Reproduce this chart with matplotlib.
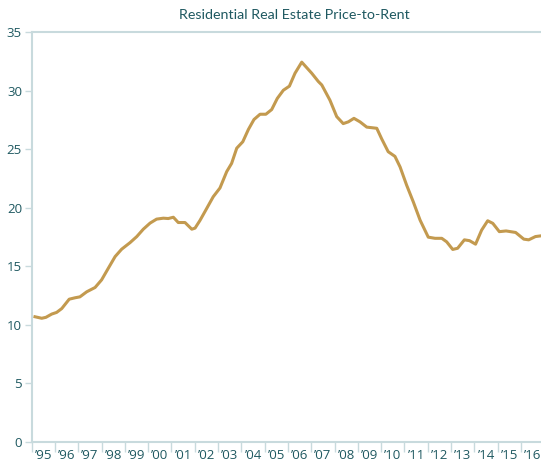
import matplotlib.pyplot as plt

# Price-to-rent ratio (decimal years)
years = [
    1995.14, 1995.43, 1995.61, 1995.86, 1996.07, 1996.29, 1996.61, 1996.86,
    1997.07, 1997.36, 1997.72, 1998.00, 1998.29, 1998.58, 1998.86, 1999.22,
    1999.51, 1999.79, 2000.08, 2000.36, 2000.65, 2000.86, 2001.08, 2001.29,
    2001.58, 2001.87, 2002.01, 2002.22, 2002.44, 2002.79, 2003.08, 2003.37,
    2003.58, 2003.80, 2004.06, 2004.30, 2004.54, 2004.80, 2005.05, 2005.30,
    2005.54, 2005.80, 2006.06, 2006.30, 2006.59, 2007.02, 2007.30, 2007.45,
    2007.80, 2008.09, 2008.37, 2008.59, 2008.83, 2009.09, 2009.38, 2009.81,
    2010.02, 2010.30, 2010.59, 2010.81, 2011.09, 2011.38, 2011.67, 2012.02,
    2012.31, 2012.60, 2012.81, 2013.07, 2013.28, 2013.57, 2013.79, 2014.05,
    2014.31, 2014.57, 2014.79, 2015.07, 2015.36, 2015.77, 2016.12, 2016.33,
    2016.62, 2016.81,
]
ratio = [
    10.70, 10.57, 10.65, 10.93, 11.07, 11.40, 12.20, 12.32,
    12.40, 12.83, 13.20, 13.85, 14.85, 15.84, 16.47, 17.03,
    17.55, 18.18, 18.70, 19.04, 19.12, 19.09, 19.20, 18.75,
    18.75, 18.18, 18.27, 18.92, 19.70, 20.95, 21.70, 23.10,
    23.80, 25.10, 25.65, 26.70, 27.55, 28.00, 28.00, 28.40,
    29.35, 30.05, 30.40, 31.50, 32.45, 31.50, 30.80, 30.50,
    29.20, 27.80, 27.20, 27.35, 27.65, 27.35, 26.90, 26.80,
    25.90, 24.80, 24.40, 23.50, 21.95, 20.50, 18.95, 17.50,
    17.40, 17.40, 17.10, 16.45, 16.55, 17.27, 17.20, 16.90,
    18.10, 18.90, 18.68, 17.97, 18.03, 17.90, 17.33, 17.27,
    17.55, 17.60,
]
year_starts = list(range(1995, 2017))
year_labels = ["\u2019%02d" % (y % 100) for y in year_starts]
y_ticks = [0, 5, 10, 15, 20, 25, 30, 35]

teal = "#1f5961"
axis_col = "#c8dadd"
line_col = "#c39a4f"

plt.rcParams["font.family"] = ["Open Sans", "DejaVu Sans"]

fig = plt.figure(figsize=(5.41, 4.66), dpi=100)
ax = fig.add_axes([31.7 / 541, 1 - 442 / 466, 1 - 31.7 / 541, (442 - 32.3) / 466])

ax.plot(years, ratio, color=line_col, linewidth=2.2, solid_joinstyle="round")

ax.set_xlim(1995, 1995 + (541 - 31.7) / 23.3)
ax.set_ylim(0, 35)

# year boundaries get tick marks, labels sit in the middle of each year
ax.set_xticks(year_starts)
ax.set_xticklabels([])
ax.set_xticks([y + 0.5 for y in year_starts], minor=True)
ax.set_xticklabels(year_labels, minor=True)
ax.tick_params(axis="x", which="major", length=7, width=1, color=axis_col)
ax.tick_params(axis="x", which="minor", length=0, pad=5, labelsize=9.5, labelcolor=teal)

ax.set_yticks(y_ticks)
ax.tick_params(axis="y", length=5, width=1, color=axis_col, pad=2,
               labelsize=9.5, labelcolor=teal)

for side in ["left", "bottom", "top"]:
    ax.spines[side].set_color(axis_col)
    ax.spines[side].set_linewidth(1.5)
ax.spines["right"].set_visible(False)

fig.text(0.545, 1 - 15 / 466, "Residential Real Estate Price-to-Rent",
         ha="center", va="center", fontsize=10.3, color=teal,
         family=["Lato", "DejaVu Sans"])

fig.savefig("out.png", dpi=100)
